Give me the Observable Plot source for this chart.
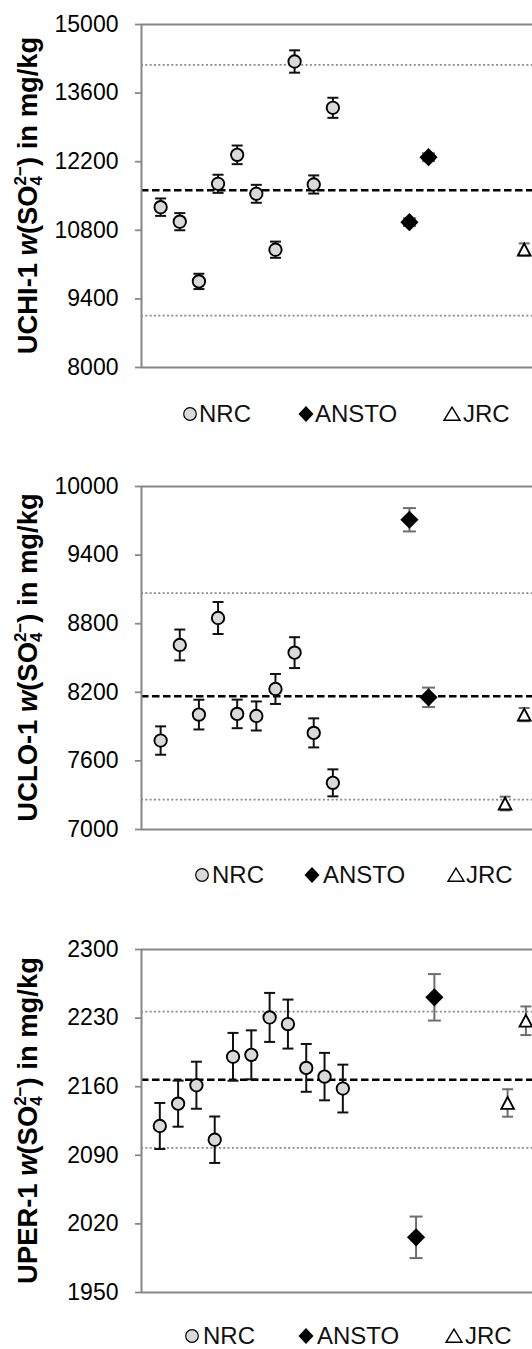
<!DOCTYPE html>
<html><head><meta charset="utf-8">
<script src="https://cdn.jsdelivr.net/npm/d3@7"></script>
<script src="https://cdn.jsdelivr.net/npm/@observablehq/plot@0.6"></script>
<style>
html,body{margin:0;padding:0;background:#fff;}
#page{position:relative;width:532px;height:1349px;overflow:hidden;font-family:"Liberation Sans",Arial,sans-serif;}
#page svg{max-width:none !important;}
.panel{position:absolute;left:0;}
.legtext{position:absolute;font-size:24px;line-height:1;color:#111;white-space:nowrap;}
.legsym{position:absolute;width:20px;height:20px;overflow:visible;}
</style></head><body><div id="page"></div>
<script>
// ---------- data: UCHI-1 ----------
const uchiTicks = [8000, 9400, 10800, 12200, 13600, 15000];
const uchiNrcX = [1, 2, 3, 4, 5, 6, 7, 8, 9, 10];
const uchiNrc = [11272, 10976, 9757, 11749, 12340, 11545, 10404, 14245, 11735, 13300];
const uchiNrcU = [178, 175, 156, 185, 190, 183, 165, 228, 185, 205];
const uchiAnstoX = [14, 15];
const uchiAnsto = [10966, 12292];
const uchiAnstoU = [80, 80];
const uchiJrcX = [20];
const uchiJrc = [10408];
const uchiJrcU = [125];
const uchiMean = [11615];
const uchiLimits = [9060, 14175];

// ---------- data: UCLO-1 ----------
const ucloTicks = [7000, 7600, 8200, 8800, 9400, 10000];
const ucloNrcX = [1, 2, 3, 4, 5, 6, 7, 8, 9, 10];
const ucloNrc = [7778, 8614, 8005, 8850, 8011, 7993, 8229, 8547, 7845, 7408];
const ucloNrcU = [124, 135, 130, 140, 125, 127, 131, 135, 127, 118];
const ucloAnstoX = [14, 15];
const ucloAnsto = [9709, 8156];
const ucloAnstoU = [102, 85];
const ucloJrcX = [19, 20];
const ucloJrc = [7227, 8005];
const ucloJrcU = [60, 58];
const ucloMean = [8165];
const ucloLimits = [7262, 9068];

// ---------- data: UPER-1 ----------
const uperTicks = [1950, 2020, 2090, 2160, 2230, 2300];
const uperNrcX = [1, 2, 3, 4, 5, 6, 7, 8, 9, 10, 11];
const uperNrc = [2119.9, 2142.7, 2161.5, 2105.9, 2190.5, 2192.5, 2230.7, 2223.9, 2179.2, 2170.3, 2158.1];
const uperNrcU = [23.5, 23.5, 24, 23.7, 24.4, 25, 25, 25, 24.4, 24.2, 24.4];
const uperAnstoX = [15, 16];
const uperAnsto = [2006.3, 2251.2];
const uperAnstoU = [21.2, 23.7];
const uperJrcX = [20, 21];
const uperJrc = [2143.4, 2227.3];
const uperJrcU = [14, 14.6];
const uperMean = [2167];
const uperLimits = [2097.5, 2236.5];

const legendNames = ["NRC", "ANSTO", "JRC"];

// ---------- layout ----------
const FONT = '"Liberation Sans", Arial, sans-serif';
const panels = [
  {name: "UCHI-1", top: 0, xMax: 22, legendY: 414, legendX: [[190, 199], [306, 315], [452, 463]],
   ticks: uchiTicks, nrcX: uchiNrcX, nrc: uchiNrc, nrcU: uchiNrcU, anstoX: uchiAnstoX, ansto: uchiAnsto, anstoU: uchiAnstoU,
   jrcX: uchiJrcX, jrc: uchiJrc, jrcU: uchiJrcU, mean: uchiMean, limits: uchiLimits},
  {name: "UCLO-1", top: 461.7, xMax: 22, legendY: 875, legendX: [[202, 212], [312, 323], [456, 466]],
   ticks: ucloTicks, nrcX: ucloNrcX, nrc: ucloNrc, nrcU: ucloNrcU, anstoX: ucloAnstoX, ansto: ucloAnsto, anstoU: ucloAnstoU,
   jrcX: ucloJrcX, jrc: ucloJrc, jrcU: ucloJrcU, mean: ucloMean, limits: ucloLimits},
  {name: "UPER-1", top: 925, xMax: 23, legendY: 1336, legendX: [[192, 203], [305.5, 317], [453.5, 465]],
   ticks: uperTicks, nrcX: uperNrcX, nrc: uperNrc, nrcU: uperNrcU, anstoX: uperAnstoX, ansto: uperAnsto, anstoU: uperAnstoU,
   jrcX: uperJrcX, jrc: uperJrc, jrcU: uperJrcU, mean: uperMean, limits: uperLimits}
];

const capSymbol = half => ({draw(ctx) { ctx.moveTo(-half, 0); ctx.lineTo(half, 0); }});
const triSymbol = {draw(ctx, size) {
  const r = Math.sqrt(size / Math.PI);
  ctx.moveTo(0, -0.94 * r); ctx.lineTo(r, 0.94 * r); ctx.lineTo(-r, 0.94 * r); ctx.closePath();
}};

const page = document.getElementById("page");
const M_TOP = 24, PLOT_H = 343, M_BOT = 20, M_LEFT = 141;

function errorMarks(rows, color, half) {
  return [
    Plot.ruleX(rows, {x: "x", y1: d => d.y - d.u, y2: d => d.y + d.u, stroke: color, strokeWidth: 2}),
    Plot.dot(rows, {x: "x", y: d => d.y - d.u, symbol: capSymbol(half), r: 4, fill: "none", stroke: color, strokeWidth: 2}),
    Plot.dot(rows, {x: "x", y: d => d.y + d.u, symbol: capSymbol(half), r: 4, fill: "none", stroke: color, strokeWidth: 2})
  ];
}

for (const p of panels) {
  const rows = (xs, ys, us) => xs.map((x, i) => ({x, y: ys[i], u: us[i]}));
  const nrcRows = rows(p.nrcX, p.nrc, p.nrcU);
  const anstoRows = rows(p.anstoX, p.ansto, p.anstoU);
  const jrcRows = rows(p.jrcX, p.jrc, p.jrcU);
  const yDom = [p.ticks[0], p.ticks[p.ticks.length - 1]];

  const svg = Plot.plot({
    width: 562, height: M_TOP + PLOT_H + M_BOT,
    marginLeft: M_LEFT, marginRight: 0, marginTop: M_TOP, marginBottom: M_BOT,
    style: {fontFamily: FONT, fontSize: "23px", color: "#000", background: "transparent", overflow: "visible"},
    x: {domain: [0, p.xMax], axis: null},
    y: {domain: yDom, axis: null},
    marks: [
      Plot.ruleY(p.limits, {stroke: "#8a8a8a", strokeWidth: 1.75, strokeDasharray: "2,2.33"}),
      Plot.ruleY(p.mean, {stroke: "#000", strokeWidth: 2.5, strokeDasharray: "7.5,3.5"}),
      ...errorMarks(nrcRows, "#111", 5.5),
      ...errorMarks(anstoRows, "#6e6e6e", 6.5),
      ...errorMarks(jrcRows, "#6e6e6e", 5.5),
      Plot.dot(nrcRows, {x: "x", y: "y", r: 6.2, fill: "#d9d9d9", stroke: "#000", strokeWidth: 1.9}),
      Plot.dot(anstoRows, {x: "x", y: "y", symbol: "diamond2", r: 8.2, fill: "#000", stroke: "none"}),
      Plot.dot(jrcRows, {x: "x", y: "y", symbol: triSymbol, r: 6.3, fill: "#fff", stroke: "#000", strokeWidth: 1.9}),
      Plot.ruleY(yDom, {stroke: "#868686", strokeWidth: 2}),
      Plot.ruleX([0], {stroke: "#868686", strokeWidth: 2}),
      Plot.axisY({ticks: p.ticks, tickSize: 6, tickPadding: 17, tickFormat: d => String(d),
        stroke: "#868686", strokeWidth: 1.75, fill: "#000", label: null})
    ]
  });

  // rotated y-axis label with stacked sub/superscript
  const t = d3.select(svg).append("text")
    .attr("transform", `translate(36.6,${M_TOP + PLOT_H / 2}) rotate(-90)`)
    .attr("text-anchor", "middle")
    .attr("fill", "#000")
    .style("font-family", FONT).style("font-size", "27.4px").style("font-weight", "bold");
  t.append("tspan").text(p.name + " ");
  t.append("tspan").style("font-style", "italic").text("w");
  t.append("tspan").text("(SO");
  t.append("tspan").attr("dy", 5).style("font-size", "17px").text("4");
  t.append("tspan").attr("dx", -9.5).attr("dy", -16).style("font-size", "17px").text("2\u2212");
  t.append("tspan").attr("dy", 11).text(") in mg/kg");

  const wrap = document.createElement("div");
  wrap.className = "panel";
  wrap.style.top = p.top + "px";
  wrap.appendChild(svg);
  page.appendChild(wrap);

  // legend (HTML below the svg)
  const syms = [
    '<circle cx="10" cy="10" r="6.3" fill="#d9d9d9" stroke="#000" stroke-width="1.2"/>',
    '<path d="M10 2 L17.5 10 L10 18 L2.5 10 Z" fill="#000"/>',
    '<path d="M10 3.2 L18 16.3 L2 16.3 Z" fill="#fff" stroke="#000" stroke-width="1.4"/>'
  ];
  legendNames.forEach((name, i) => {
    const [cx, tx] = p.legendX[i];
    const s = document.createElementNS("http://www.w3.org/2000/svg", "svg");
    s.setAttribute("class", "legsym");
    s.setAttribute("viewBox", "0 0 20 20");
    s.style.left = (cx - 10) + "px";
    s.style.top = (p.legendY - 10) + "px";
    s.innerHTML = syms[i];
    page.appendChild(s);
    const d = document.createElement("div");
    d.className = "legtext";
    d.textContent = name;
    d.style.left = tx + "px";
    d.style.top = (p.legendY - 11.7) + "px";
    page.appendChild(d);
  });
}
</script></body></html>
